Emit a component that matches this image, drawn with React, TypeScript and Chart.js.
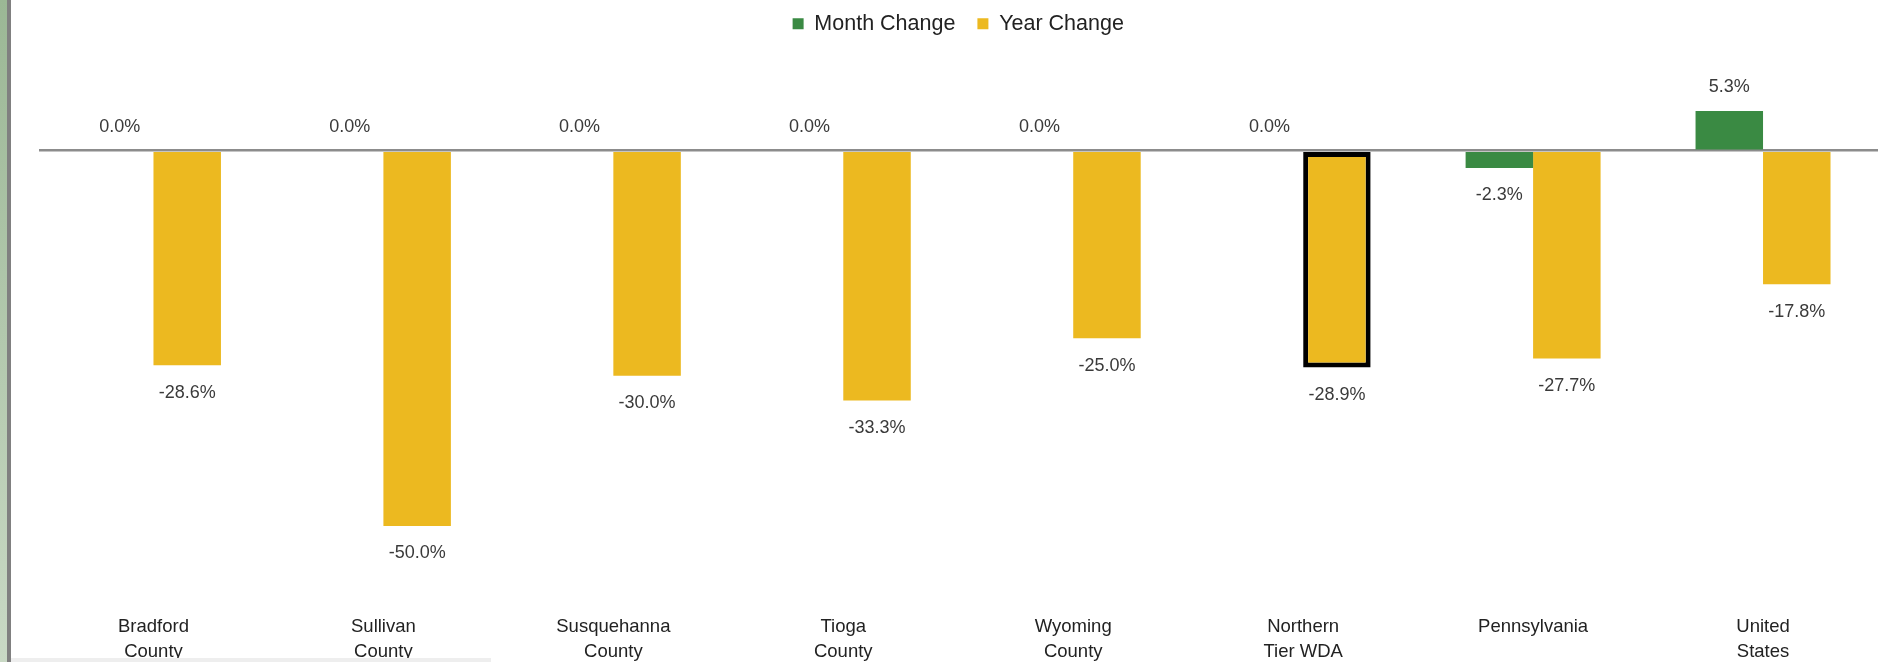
import React, { useEffect, useRef } from "react";
import { Chart, registerables } from "chart.js";

Chart.register(...registerables);

const categories: string[][] = [
  ["Bradford", "County"],
  ["Sullivan", "County"],
  ["Susquehanna", "County"],
  ["Tioga", "County"],
  ["Wyoming", "County"],
  ["Northern", "Tier WDA"],
  ["Pennsylvania"],
  ["United", "States"],
];
const seriesNames = ["Month Change", "Year Change"];
const monthChange = [0.0, 0.0, 0.0, 0.0, 0.0, 0.0, -2.3, 5.3];
const yearChange = [-28.6, -50.0, -30.0, -33.3, -25.0, -28.9, -27.7, -17.8];
const highlightIndex = 5;
const yMin = -60;
const yMax = 14.15;
const yStep = 10;

const GREEN = "#3a8a43";
const YELLOW = "#ecb920";

const valueLabels = {
  id: "valueLabels",
  afterDatasetsDraw(chart: any) {
    const ctx = chart.ctx;
    ctx.save();
    ctx.font = '18px "Liberation Sans", Arial, sans-serif';
    ctx.fillStyle = "#3a3a3a";
    ctx.textAlign = "center";
    ctx.textBaseline = "middle";
    chart.data.datasets.forEach((ds: any, di: number) => {
      const meta = chart.getDatasetMeta(di);
      meta.data.forEach((el: any, i: number) => {
        const v = ds.data[i] as number;
        const y = v >= 0 ? el.y - 24 : el.y + 27.5;
        ctx.fillText(v.toFixed(1) + "%", el.x, y);
      });
    });
    ctx.restore();
  },
};

export default function App() {
  const ref = useRef<HTMLCanvasElement | null>(null);

  useEffect(() => {
    document.body.style.margin = "0";
    const canvas = ref.current;
    if (!canvas) return;
    const chart = new Chart(canvas, {
      type: "bar",
      data: {
        labels: categories,
        datasets: [
          {
            label: seriesNames[0],
            data: monthChange,
            backgroundColor: GREEN,
            borderWidth: 0,
            categoryPercentage: 0.587,
            barPercentage: 1,
          },
          {
            label: seriesNames[1],
            data: yearChange,
            backgroundColor: YELLOW,
            borderColor: "#000000",
            borderWidth: (c: any) => (c.dataIndex === highlightIndex ? 5 : 0),
            borderSkipped: false,
            categoryPercentage: 0.587,
            barPercentage: 1,
          },
        ],
      },
      options: {
        animation: false,
        responsive: false,
        devicePixelRatio: 1,
        layout: { padding: { left: 38.5, right: 11, top: 0, bottom: 0 } },
        plugins: {
          legend: {
            position: "top",
            labels: {
              boxWidth: 11,
              boxHeight: 11,
              padding: 22,
              color: "#222222",
              font: { family: '"Liberation Sans", Arial, sans-serif', size: 21.5 },
            },
          },
          tooltip: { enabled: false },
        },
        scales: {
          x: {
            grid: { display: false, drawTicks: false },
            border: { display: false },
            ticks: {
              padding: 13,
              color: "#222222",
              maxRotation: 0,
              autoSkip: false,
              font: {
                family: '"Liberation Sans", Arial, sans-serif',
                size: 18.5,
                lineHeight: "25px",
              },
            },
          },
          y: {
            min: yMin,
            max: yMax,
            z: 1,
            ticks: { display: false, stepSize: yStep },
            grid: {
              drawTicks: false,
              color: (c: any) => (c.tick && c.tick.value === 0 ? "#8c8c8c" : "rgba(0,0,0,0)"),
              lineWidth: 2.5,
            },
            border: { display: false },
          },
        },
      },
      plugins: [valueLabels],
    } as any);
    return () => chart.destroy();
  }, []);

  return (
    <div style={{ position: "relative", width: 1889, height: 662, overflow: "hidden", background: "#ffffff" }}>
      <canvas
        ref={ref}
        width={1889}
        height={686}
        style={{ position: "absolute", left: 0, top: -9, width: 1889, height: 686 }}
      />
      <div
        style={{
          position: "absolute",
          left: 0,
          top: 0,
          width: 7,
          height: 662,
          background: "linear-gradient(to bottom, #9bb795, #c9d9c5)",
        }}
      />
      <div style={{ position: "absolute", left: 7, top: 0, width: 4, height: 662, background: "#808080" }} />
      <div style={{ position: "absolute", left: 11, top: 658, width: 480, height: 4, background: "#eeeeee" }} />
    </div>
  );
}
